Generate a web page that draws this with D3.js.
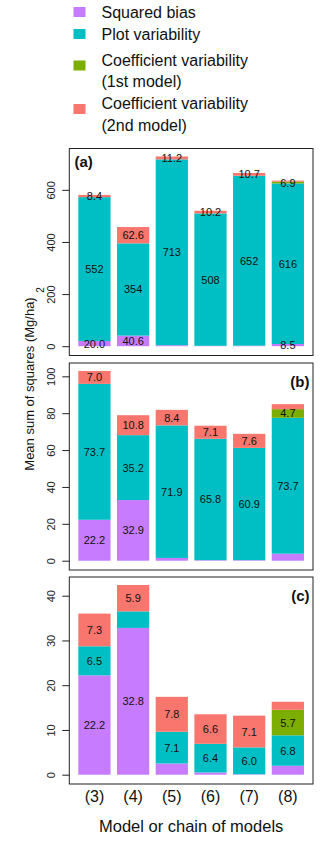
<!DOCTYPE html>
<html>
<head>
<meta charset="utf-8">
<script src="https://cdn.jsdelivr.net/npm/d3@7"></script>
<style>
  body { margin: 0; background: #fff; }
  svg { display: block; font-family: "Liberation Sans", Arial, sans-serif; }
</style>
</head>
<body>
<div id="chart"></div>
<script>
// models on the x axis
const categories = ["(3)", "(4)", "(5)", "(6)", "(7)", "(8)"];
const panelNames = ["(a)", "(b)", "(c)"];
const seriesNames = ["Squared bias", "Plot variability",
  "Coefficient variability\n(1st model)", "Coefficient variability\n(2nd model)"];
const seriesColors = ["#C77CFF", "#00BFC4", "#7CAE00", "#F8766D"];

// panel (a)
const sqBiasA = [20.0, 40.6, 3.8, 1.5, 2.0, 8.5];
const plotVarA = [552, 354, 713, 508, 652, 616];
const coef1A = [0, 0, 0, 0, 0, 6.9];
const coef2A = [8.4, 62.6, 11.2, 10.2, 10.7, 4.0];
// panel (b)
const sqBiasB = [22.2, 32.9, 1.5, 0.3, 0.3, 3.8];
const plotVarB = [73.7, 35.2, 71.9, 65.8, 60.9, 73.7];
const coef1B = [0, 0, 0, 0, 0, 4.7];
const coef2B = [7.0, 10.8, 8.4, 7.1, 7.6, 2.7];
// panel (c)
const sqBiasC = [22.2, 32.8, 2.5, 0.5, 0.1, 2.0];
const plotVarC = [6.5, 3.7, 7.1, 6.4, 6.0, 6.8];
const coef1C = [0, 0, 0, 0, 0, 5.7];
const coef2C = [7.3, 5.9, 7.8, 6.6, 7.1, 1.8];

const ticksA = [0, 200, 400, 600];
const ticksB = [0, 20, 40, 60, 80, 100];
const ticksC = [0, 10, 20, 30, 40];

const panels = [
  {name: panelNames[0], series: [sqBiasA, plotVarA, coef1A, coef2A], ticks: ticksA, right: false},
  {name: panelNames[1], series: [sqBiasB, plotVarB, coef1B, coef2B], ticks: ticksB, right: true},
  {name: panelNames[2], series: [sqBiasC, plotVarC, coef1C, coef2C], ticks: ticksC, right: true}
];

const widthSvg = 320, heightSvg = 841;
const boxLeft = 69.3, boxRight = 313;
const boxTops = [148.5, 363, 577];
const boxH = 207;

const svg = d3.select("#chart").append("svg")
  .attr("width", widthSvg).attr("height", heightSvg);

var x = d3.scaleBand()
  .domain(categories)
  .range([boxLeft, boxRight])
  .paddingInner(0.2 / 1.2)
  .paddingOuter(0.28 / 1.2);

const fmt = function(v) { return v >= 100 ? d3.format(".0f")(v) : d3.format(".1f")(v); };

panels.forEach(function(p, pi) {
  const top = boxTops[pi], bottom = top + boxH;
  const rows = categories.map(function(c, i) {
    const r = {cat: c};
    p.series.forEach(function(s, k) { r["s" + k] = s[i]; });
    return r;
  });
  const keys = ["s0", "s1", "s2", "s3"];
  const stacked = d3.stack().keys(keys)(rows);
  const maxY = d3.max(rows, function(r) { return d3.sum(keys, function(k) { return r[k]; }); });
  var y = d3.scaleLinear().domain([-0.049 * maxY, 1.042 * maxY]).range([bottom, top]);

  const g = svg.append("g");

  stacked.forEach(function(layer, k) {
    g.append("g").selectAll("rect")
      .data(layer)
      .enter().append("rect")
      .attr("x", function(d) { return x(d.data.cat); })
      .attr("y", function(d) { return y(d[1]); })
      .attr("width", x.bandwidth())
      .attr("height", function(d) { return y(d[0]) - y(d[1]); })
      .attr("fill", seriesColors[k]);
  });

  // value labels (small segments left unlabelled)
  stacked.forEach(function(layer) {
    g.append("g").selectAll("text")
      .data(layer.filter(function(d) { return d[1] - d[0] >= 4.5; }))
      .enter().append("text")
      .attr("x", function(d) { return x(d.data.cat) + x.bandwidth() / 2; })
      .attr("y", function(d) { return y((d[0] + d[1]) / 2); })
      .attr("text-anchor", "middle")
      .attr("dominant-baseline", "central")
      .attr("font-size", "11px")
      .attr("fill", "#111")
      .text(function(d) { return fmt(d[1] - d[0]); });
  });

  g.append("rect")
    .attr("x", boxLeft).attr("y", top)
    .attr("width", boxRight - boxLeft).attr("height", boxH)
    .attr("fill", "none").attr("stroke", "#222").attr("stroke-width", 1);

  const ax = g.append("g")
    .attr("transform", "translate(" + boxLeft + ",0)")
    .call(d3.axisLeft(y).tickValues(p.ticks).tickSize(7).tickPadding(11));
  ax.select(".domain").remove();
  ax.selectAll("line").attr("stroke", "#222");
  ax.selectAll("text")
    .attr("font-size", "11px")
    .attr("font-family", "Liberation Sans, Arial, sans-serif")
    .attr("fill", "#222")
    .attr("text-anchor", "middle")
    .attr("dy", null)
    .attr("x", -18)
    .attr("y", 0)
    .attr("transform", "rotate(-90,-18,0)")
    .attr("dominant-baseline", "central");

  g.append("text")
    .attr("x", p.right ? 309.5 : 74.5)
    .attr("y", top + (p.right ? 24 : 18))
    .attr("text-anchor", p.right ? "end" : "start")
    .attr("font-size", "15px")
    .attr("font-weight", "bold")
    .attr("fill", "#111")
    .text(p.name);
});

// x tick labels under the last panel
svg.append("g").selectAll("text")
  .data(categories)
  .enter().append("text")
  .attr("x", function(d) { return x(d) + x.bandwidth() / 2; })
  .attr("y", 802)
  .attr("text-anchor", "middle")
  .attr("font-size", "16px")
  .attr("fill", "#111")
  .text(function(d) { return d; });

svg.append("text")
  .attr("x", (boxLeft + boxRight) / 2)
  .attr("y", 832)
  .attr("text-anchor", "middle")
  .attr("font-size", "16.5px")
  .attr("fill", "#111")
  .text("Model or chain of models");

// y title
svg.append("text")
  .attr("transform", "translate(34,384) rotate(-90)")
  .attr("text-anchor", "middle")
  .attr("font-size", "13px")
  .attr("fill", "#111")
  .text("Mean sum of squares (Mg/ha)");
svg.append("text")
  .attr("transform", "translate(44,290) rotate(-90)")
  .attr("text-anchor", "middle")
  .attr("font-size", "10px")
  .attr("fill", "#111")
  .text("2");

// legend
const legend = svg.append("g").selectAll("g")
  .data(seriesNames)
  .enter().append("g");
const legendY = [12, 34, 65.5, 109];
legend.append("rect")
  .attr("x", 73.5)
  .attr("y", function(d, i) { return legendY[i] - 5; })
  .attr("width", 12).attr("height", 10)
  .attr("fill", function(d, i) { return seriesColors[i]; });
legend.each(function(d, i) {
  const lines = d.split("\n");
  const t = d3.select(this).append("text")
    .attr("x", 101.5)
    .attr("y", legendY[i] + (lines.length > 1 ? 0 : 6))
    .attr("font-size", "16px")
    .attr("fill", "#111");
  lines.forEach(function(l, j) {
    t.append("tspan").attr("x", 101.5).attr("dy", j === 0 ? 0 : 21.7).text(l);
  });
});
</script>
</body>
</html>
